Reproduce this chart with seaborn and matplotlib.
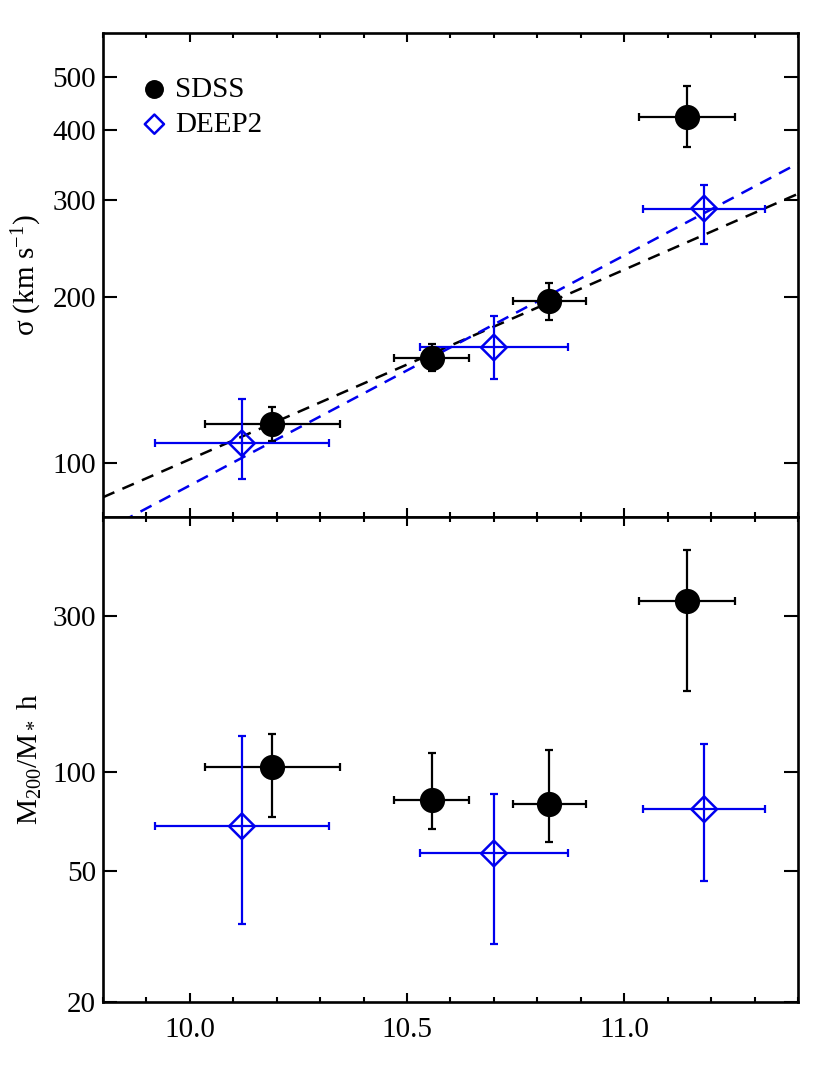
import numpy as np
import pandas as pd
import matplotlib
matplotlib.use("Agg")
import matplotlib.pyplot as plt
import seaborn as sns
from matplotlib.ticker import FixedLocator, FixedFormatter, MultipleLocator, NullLocator

# stellar mass bins (log M*)
sdss_mass = [10.19, 10.557, 10.827, 11.145]
sdss_mass_err = [0.155, 0.086, 0.084, 0.11]
deep2_mass = [10.12, 10.70, 11.184]
deep2_mass_err = [0.2, 0.17, 0.14]

# velocity dispersion (km/s) with lower / upper error bar ends
sdss_sigma = [118, 155, 197, 423]
sdss_sigma_lo = [109.6, 146.6, 182, 374]
sdss_sigma_hi = [126.7, 164.7, 211.6, 482]
deep2_sigma = [108.7, 162, 289]
deep2_sigma_lo = [93.6, 141.8, 249.5]
deep2_sigma_hi = [130.5, 185, 319]

# M200 / M* h
sdss_ratio = [103.7, 82.2, 80, 333]
sdss_ratio_lo = [72.9, 67, 61.2, 177]
sdss_ratio_hi = [130.8, 114.4, 117, 477]
deep2_ratio = [68.5, 56.6, 77.2]
deep2_ratio_lo = [34.4, 29.9, 46.8]
deep2_ratio_hi = [129, 85.7, 121.9]

# power-law fits: log10(sigma) = zero + slope * (logM - 10.5)
sdss_fit = {"slope": 0.343, "zero": 2.1787}
deep2_fit = {"slope": 0.416, "zero": 2.168}

sigma_ticks = [100, 200, 300, 400, 500]
ratio_ticks = [20, 50, 100, 300]
mass_ticks = [10.0, 10.5, 11.0]

sns.set_style("ticks")
plt.rcParams["font.family"] = ["Liberation Serif", "DejaVu Serif"]
plt.rcParams["mathtext.fontset"] = "custom"
plt.rcParams["mathtext.rm"] = "Liberation Serif"
plt.rcParams["mathtext.it"] = "Liberation Serif:italic"
plt.rcParams["axes.linewidth"] = 1.9
for key in ["text.color", "axes.labelcolor", "xtick.color", "ytick.color", "axes.edgecolor"]:
    plt.rcParams[key] = "black"

fs = 21
fig = plt.figure(figsize=(8.3, 10.68), dpi=100)
ax1 = fig.add_axes([0.124, 0.516, 0.8374, 0.453])
ax2 = fig.add_axes([0.124, 0.062, 0.8374, 0.454])

blue = "#0000ee"


def draw(ax, xs, xe, ys, lo, hi, color, marker, filled, label):
    ys = np.array(ys)
    yerr = [ys - np.array(lo), np.array(hi) - ys]
    ax.errorbar(xs, ys, xerr=xe, yerr=yerr, fmt="none", ecolor=color,
                elinewidth=1.6, capsize=3, capthick=1.6, zorder=2)
    df = pd.DataFrame({"x": xs, "y": ys})
    if filled:
        sns.scatterplot(data=df, x="x", y="y", ax=ax, marker=marker, s=330,
                        color=color, edgecolor=color, linewidth=0, zorder=3, label=label)
    else:
        sns.scatterplot(data=df, x="x", y="y", ax=ax, marker=marker, s=170,
                        facecolor="none", edgecolor=color, linewidth=1.8, zorder=3, label=label)


# top panel: sigma
xgrid = np.linspace(9.8, 11.4, 50)
for fit, col in [(sdss_fit, "black"), (deep2_fit, blue)]:
    line = pd.DataFrame({"x": xgrid, "y": 10 ** (fit["zero"] + fit["slope"] * (xgrid - 10.5))})
    sns.lineplot(data=line, x="x", y="y", ax=ax1, color=col, linewidth=1.8,
                 zorder=1, legend=False)
    ax1.lines[-1].set_dashes([5, 3.5])

draw(ax1, sdss_mass, sdss_mass_err, sdss_sigma, sdss_sigma_lo, sdss_sigma_hi,
     "black", "o", True, "SDSS")
draw(ax1, deep2_mass, deep2_mass_err, deep2_sigma, deep2_sigma_lo, deep2_sigma_hi,
     blue, "D", False, "DEEP2")

# bottom panel: M200/M*
draw(ax2, sdss_mass, sdss_mass_err, sdss_ratio, sdss_ratio_lo, sdss_ratio_hi,
     "black", "o", True, None)
draw(ax2, deep2_mass, deep2_mass_err, deep2_ratio, deep2_ratio_lo, deep2_ratio_hi,
     blue, "D", False, None)

for ax, ylim, ticks in [(ax1, (80, 600), sigma_ticks), (ax2, (20, 600), ratio_ticks)]:
    ax.set_yscale("log")
    ax.set_ylim(*ylim)
    ax.set_xlim(9.8, 11.4)
    ax.yaxis.set_major_locator(FixedLocator(ticks))
    ax.yaxis.set_major_formatter(FixedFormatter([str(t) for t in ticks]))
    ax.yaxis.set_minor_locator(NullLocator())
    ax.xaxis.set_major_locator(FixedLocator(mass_ticks))
    ax.xaxis.set_major_formatter(FixedFormatter([f"{t:.1f}" for t in mass_ticks]))
    ax.xaxis.set_minor_locator(MultipleLocator(0.1))
    ax.tick_params(which="both", direction="in", top=True, right=True, width=1.5,
                   labelsize=fs, color="black", labelcolor="black")
    ax.tick_params(axis="y", which="major", length=10, pad=5)
    ax.tick_params(axis="x", which="major", length=6.5, pad=11)
    ax.tick_params(axis="x", which="minor", length=3.5)
    ax.set_xlabel("")
    for sp in ax.spines.values():
        sp.set_visible(True)
        sp.set_color("black")

ax1.tick_params(axis="x", labelbottom=False)

ax1.set_ylabel("σ (km s$^{-1}$)", fontsize=fs, labelpad=6, color="black")
ax2.set_ylabel(r"M$_{200}$/M$_*$ h", fontsize=fs, labelpad=6, color="black")

leg = ax1.legend(loc="upper left", frameon=False, fontsize=fs, handletextpad=0.05,
                 markerscale=0.75, borderaxespad=0.0, labelspacing=0.3,
                 handlelength=1.3, bbox_to_anchor=(0.03, 0.935))
for t in leg.get_texts():
    t.set_color("black")

fig.savefig("out.png", dpi=100)
